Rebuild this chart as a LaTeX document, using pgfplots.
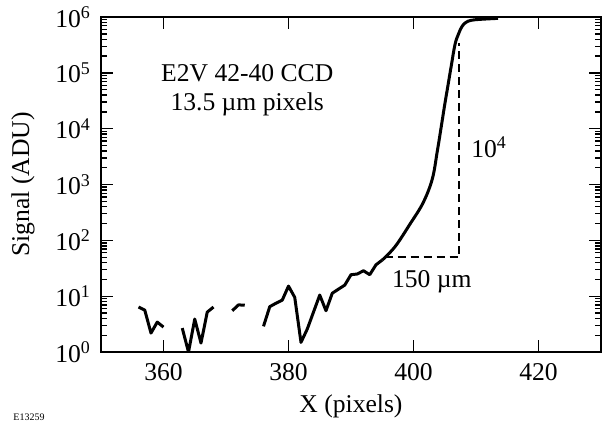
\documentclass[border=0pt]{standalone}
\usepackage{fontspec}
\setmainfont{Liberation Serif}
\usepackage{pgfplots}
\pgfplotsset{compat=1.18}
\usetikzlibrary{calc}

\newcommand{\lblfont}{\fontsize{12.8}{15}\selectfont}

\begin{document}
\begin{tikzpicture}
\begin{axis}[
  name=ax,
  width=250pt, height=167.5pt, scale only axis,
  xmin=350, xmax=430,
  ymode=log, ymin=1, ymax=1e6,
  axis on top,
  xtick={360,380,400,420},
  xticklabels={360,380,400,420},
  ytick={1,10,100,1000,10000,100000,1000000},
  yticklabels={10\textsuperscript{0},10\textsuperscript{1},10\textsuperscript{2},10\textsuperscript{3},10\textsuperscript{4},10\textsuperscript{5},10\textsuperscript{6}},
  tick align=inside,
  major tick length=6pt, minor tick length=3pt,
  xtick style={draw=black, line width=0.7pt},
  ytick style={draw=black, line width=0.7pt},
  axis line style={line width=0.7pt},
  tick label style={font=\lblfont},
  xticklabel style={yshift=-2pt},
  yticklabel style={xshift=-1.5pt},
  xlabel={X (pixels)},
  ylabel={Signal (ADU)},
  label style={font=\lblfont},
  xlabel style={at={(axis description cs:0.5,0)}, anchor=base, yshift=-30pt},
  ylabel style={at={(axis description cs:-0.156,0.5)}, anchor=center},
  sigcurve/.style={black, line width=1.5pt, line join=round, mark=none},
]
% noisy baseline, broken where the signal drops out
\addplot[sigcurve] coordinates {(356,6.4) (357,5.65) (358,2.19) (359,3.44) (360,2.8)};
\addplot[sigcurve] coordinates {(363,2.69) (364,1.0) (365,3.9) (366,1.45) (367,5.2) (368,6.4)};
\addplot[sigcurve] coordinates {(371,5.5) (372,7.0) (373,6.9)};
\addplot[sigcurve] coordinates {(376,2.89) (377,6.5) (378,7.5) (379,8.5) (380,15.2) (381,9.55)
  (382,1.49) (383,2.58) (384,5.2) (385,10.5) (386,5.5) (387,11.3) (388,13.4) (389,15.8)
  (390,24.3) (391,25) (392,28.6) (393,24.3) (394,36.6) (395,44.5)};
% edge rise
\addplot[sigcurve, smooth, tension=0.6] coordinates {(395,44.5) (396,57) (397.36,86) (399.44,196) (401.52,468)
  (403.0,1250) (403.8,3900) (404.5,12000) (405.04,29000) (405.5,58000) (406.08,141700)
  (406.64,323200) (407.17,488700) (407.76,679000) (408.4,804000) (409.2,873600)
  (410.64,910000) (413.52,948000)};
% scale markers
\addplot[black, line width=1pt, dash pattern=on 4pt off 2.5pt] coordinates {(395.4,50) (407.3,50) (407.3,3.5e5)};

\node[anchor=base, font=\lblfont] at (axis cs:373.4,71450) {E2V 42-40 CCD};
\node[anchor=base, font=\lblfont] at (axis cs:373.4,21600) {13.5 µm pixels};
\node[anchor=base west, inner sep=0pt, font=\lblfont] at (axis cs:409.2,3110) {10\textsuperscript{4}};
\node[anchor=base west, inner sep=0pt, font=\lblfont] at (axis cs:396.5,14.6) {150 µm};
\end{axis}
\node[anchor=north west, inner sep=0pt, font=\fontsize{5}{6}\selectfont] at ($(ax.south west)+(-44pt,-30.5pt)$) {E13259};
% pad the picture to the reference's margins
\path ($(ax.south west)+(-50.5pt,-35.5pt)$) rectangle ($(ax.north east)+(0.5pt,6.5pt)$);
\end{tikzpicture}
\end{document}
